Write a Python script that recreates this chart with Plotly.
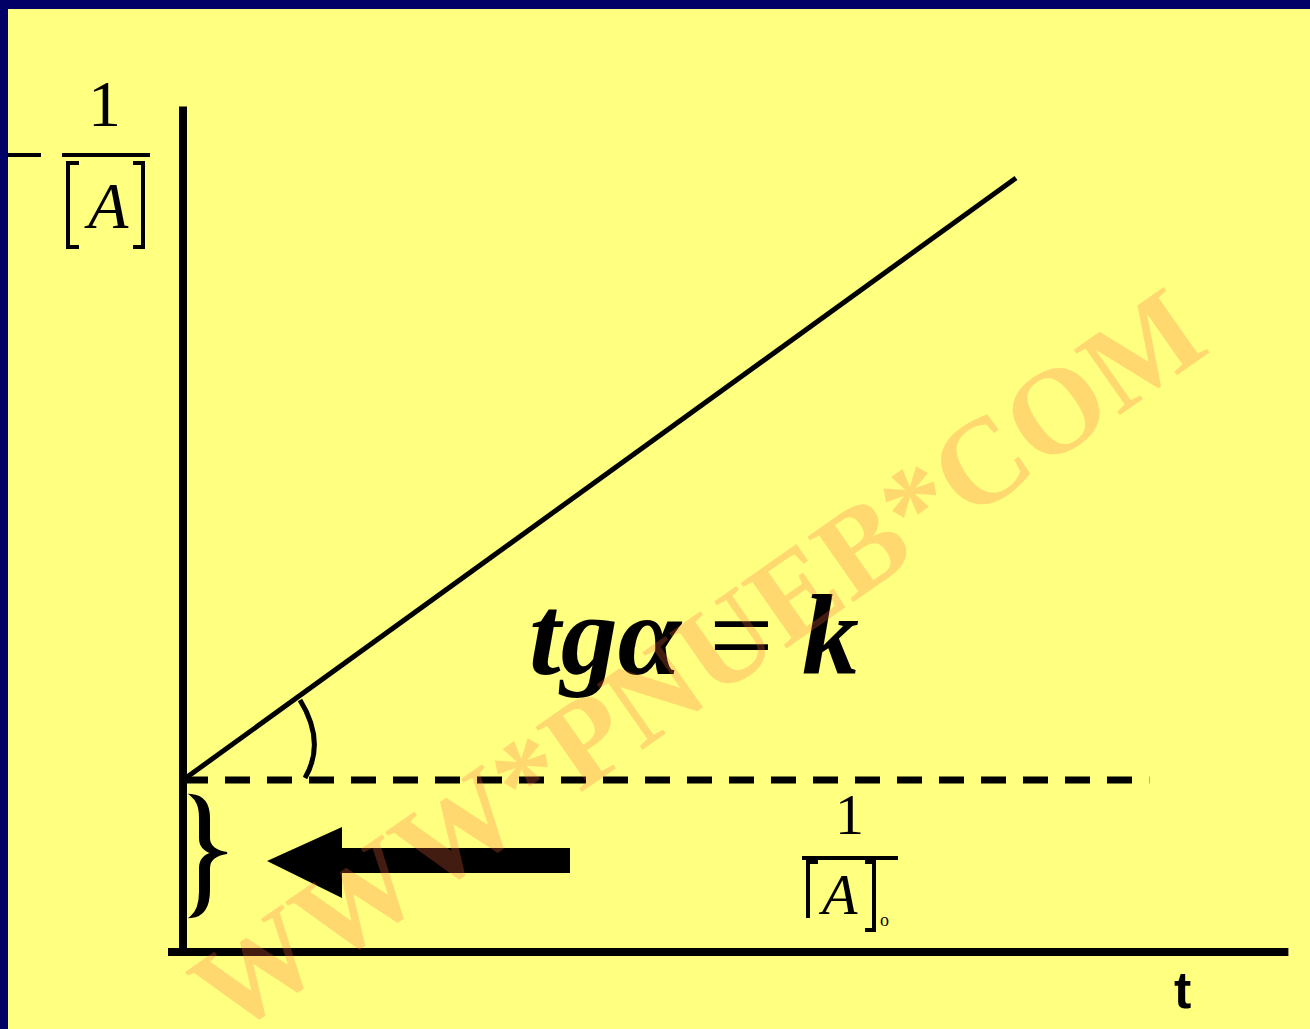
import plotly.graph_objects as go

# figure size in pixels
W, H = 1310, 1029

# data: 1/[A] against t for a second-order reaction (arbitrary units)
t_vals = [0.0, 10.0]
inv_a_vals = [2.0, 9.0]
inv_a0 = 2.0
t_dash_end = 11.6
t_axis = [-0.18, 13.27]
y_axis_top = 9.83

# pixel scale of one data unit and where the origin sits
SX, SY = 83.3, 86.0
OX, OY = 183, 952

YELLOW = "#FFFF80"
NAVY = "#000066"


def P(px, py):
    # pixel position -> paper coordinates
    return px / W, 1 - py / H


def path(cmds):
    out = []
    for c in cmds:
        if isinstance(c, str):
            out.append(c)
        else:
            x, y = P(*c)
            out.append(f"{x:.5f},{y:.5f}")
    return " ".join(out)


fig = go.Figure()

# straight line 1/[A] = 1/[A]0 + k t
fig.add_trace(go.Scatter(
              x = t_vals,
              y = inv_a_vals,
              mode = 'lines',
              line = dict(color='black', width=5),
              hoverinfo = 'skip'))

# intercept level
fig.add_trace(go.Scatter(
              x = [0, t_dash_end],
              y = [inv_a0, inv_a0],
              mode = 'lines',
              line = dict(color='black', width=7, dash='25px,17px'),
              hoverinfo = 'skip'))

shapes = []
# blue frame of the slide
shapes.append(dict(type='rect', xref='paper', yref='paper', x0=0, x1=1,
                   y0=1 - 9 / H, y1=1, fillcolor=NAVY, line_width=0))
shapes.append(dict(type='rect', xref='paper', yref='paper', x0=0, x1=8 / W,
                   y0=0, y1=1, fillcolor=NAVY, line_width=0))
# axes
shapes.append(dict(type='line', xref='x', yref='y', x0=0, x1=0, y0=0, y1=y_axis_top,
                   line=dict(color='black', width=8)))
shapes.append(dict(type='line', xref='x', yref='y', x0=t_axis[0], x1=t_axis[1], y0=0, y1=0,
                   line=dict(color='black', width=8)))


def seg(a, b, width=4):
    x0, y0 = P(*a)
    x1, y1 = P(*b)
    shapes.append(dict(type='line', xref='paper', yref='paper', x0=x0, y0=y0, x1=x1, y1=y1,
                       line=dict(color='black', width=width)))


def stroke(cmds, width=4):
    shapes.append(dict(type='path', xref='paper', yref='paper', path=path(cmds),
                       line=dict(color='black', width=width)))


# y-axis label 1/[A]
seg((7, 155), (41, 155))
seg((62, 155), (150, 155))
stroke(['M', (79, 163), 'L', (68, 163), 'L', (68, 247), 'L', (79, 247)])
stroke(['M', (133, 163), 'L', (143, 163), 'L', (143, 247), 'L', (133, 247)])

# label 1/[A]0
seg((802, 858), (898, 858))
stroke(['M', (818, 862), 'L', (808, 862), 'L', (808, 918)])
stroke(['M', (865, 862), 'L', (874, 862), 'L', (874, 930), 'L', (865, 930)])

# angle mark
stroke(['M', (300, 700), 'Q', (326, 742), (305, 778)], width=5)

# brace
shapes.append(dict(type='path', xref='paper', yref='paper', fillcolor='black',
                   line=dict(color='black', width=2),
                   path=path(['M', (191, 795), 'C', (203, 796), (209, 804), (209, 818),
                              'L', (209, 838), 'C', (209, 846), (214, 851), (227, 853),
                              'C', (214, 855), (209, 860), (209, 868), 'L', (209, 890),
                              'C', (209, 906), (203, 916), (191, 917),
                              'C', (197, 912), (200, 904), (200, 892), 'L', (200, 868),
                              'C', (200, 860), (205, 855), (213, 853),
                              'C', (205, 851), (200, 846), (200, 838), 'L', (200, 818),
                              'C', (200, 806), (197, 800), (191, 795), 'Z'])))

# arrow pointing at the intercept
shapes.append(dict(type='path', xref='paper', yref='paper',
                   path=path(['M', (570, 848), 'L', (342, 848), 'L', (342, 827), 'L', (267, 861),
                              'L', (342, 898), 'L', (342, 873), 'L', (570, 873), 'Z']),
                   fillcolor='black', line_width=0))

annotations = []


def label(text, px, py, size, family='Liberation Serif', color='black', angle=0):
    x, y = P(px, py)
    annotations.append(dict(text=text, x=x, y=y, xref='paper', yref='paper',
                            xanchor='center', yanchor='middle', showarrow=False,
                            textangle=angle,
                            font=dict(family=family, size=size, color=color)))


label("1", 104, 104, 66)
label("<i>A</i>", 106, 205, 66)
label("1", 849, 814, 58)
label("<i>A</i>", 838, 894, 58)
label("o", 884, 920, 18)
label("<b><i>tgα</i></b> = <b><i>k</i></b>", 694, 635, 114)
label("<b>t</b>", 1182, 990, 52, family='Liberation Sans')
# watermark
label("<b>WWW*PNUEB*COM</b>", 697, 660, 122, color='rgba(255,110,65,0.26)', angle=-35)

fig.update_layout(width = W,
                  height = H,
                  margin = dict(l=0, r=0, t=0, b=0),
                  paper_bgcolor = YELLOW,
                  plot_bgcolor = YELLOW,
                  showlegend = False,
                  shapes = shapes,
                  annotations = annotations,
                  xaxis = dict(visible=False, range=[(0 - OX) / SX, (W - OX) / SX]),
                  yaxis = dict(visible=False, range=[(OY - H) / SY, OY / SY]))

fig.write_html("out.html",
               config={'displayModeBar': False},
               post_script="document.body.style.margin='0';document.body.style.overflow='hidden';")
